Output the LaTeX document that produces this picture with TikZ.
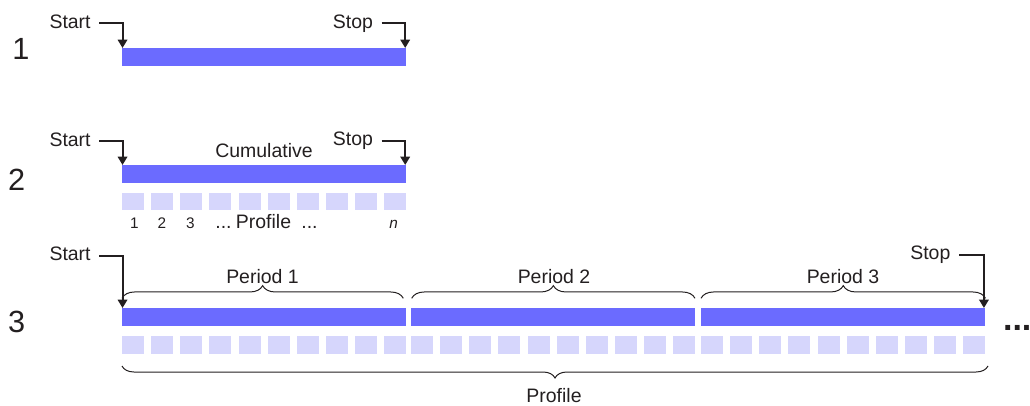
\documentclass[tikz,border=0pt]{standalone}
\usepackage{fontspec}
\setmainfont{Liberation Sans}
\usetikzlibrary{decorations.pathreplacing,arrows.meta}
\definecolor{barblue}{RGB}{107,107,255}
\definecolor{sqblue}{RGB}{214,214,252}
\definecolor{ink}{RGB}{35,31,32}
\begin{document}
\begin{tikzpicture}[x=0.75pt,y=-0.75pt,
  bar/.style={fill=barblue, draw=none, inner sep=0pt, anchor=north west, minimum height=13.2pt},
  sq/.style={fill=sqblue, draw=none, inner sep=0pt, anchor=north west, minimum width=16.5pt, minimum height=13.1pt},
  lbl/.style={font=\fontsize{14.6pt}{16pt}\selectfont, inner xsep=6.3pt, inner ysep=0pt, text height=0.716em, text depth=0pt, text=ink},
  txt/.style={font=\fontsize{14.6pt}{16pt}\selectfont, inner sep=0pt, anchor=base, text=ink},
  small/.style={font=\fontsize{11.5pt}{13pt}\selectfont, inner sep=0pt, anchor=base, text=ink},
  num/.style={font=\fontsize{23pt}{26pt}\selectfont, inner sep=0pt, anchor=base, text=ink},
  arr/.style={draw=ink, line width=1.5pt, -{Triangle[length=6.2pt,width=7pt]}},
  brc/.style={draw=ink, line width=0.75pt, decorate, decoration={brace, amplitude=9.5pt}}
]
\useasboundingbox (0,0) rectangle (1030,406);

% row numbers
\node[num] (n1) at (21,59.5) {1};
\node[num] (n2) at (16.7,190) {2};
\node[num] (n3) at (16.7,332.7) {3};

% Row 1
\node[bar, minimum width=213pt] (b1) at (122,48) {};
\node[lbl, anchor=east] (start1) at (99.3,23.3) {Start};
\node[lbl, anchor=east] (stop1) at (381.7,23.3) {Stop};
\draw[arr] (start1.east) -| ([xshift=0.4pt]b1.north west);
\draw[arr] (stop1.east) -| ([xshift=-1pt]b1.north east);

% Row 2
\node[bar, minimum width=213pt] (b2) at (122,165) {};
\node[lbl, anchor=east] (start2) at (99.3,141.5) {Start};
\node[lbl, anchor=east] (stop2) at (381.7,141) {Stop};
\draw[arr] (start2.east) -| ([xshift=0.4pt]b2.north west);
\draw[arr] (stop2.east) -| ([xshift=-1pt]b2.north east);
\node[txt] (cum) at (264,157.7) {Cumulative};
\foreach \i in {0,...,9} \node[sq] (s2-\i) at ({122+\i*29.07},192.7) {};
\node[small] (l1) at (134.5,228.3) {1};
\node[small] (l2) at (162,228.3) {2};
\node[small] (l3) at (190.5,228.3) {3};
\node[txt] (d1) at (223.5,228.3) {...};
\node[txt] (prof2) at (263.5,228.3) {Profile};
\node[txt] (d2) at (309.5,228.3) {...};
\node[small] (ln) at (393.7,228.3) {\itshape n};

% Row 3
\node[bar, minimum width=213pt] (b31) at (122,308) {};
\node[bar, minimum width=213pt] (b32) at (411,308) {};
\node[bar, minimum width=213pt] (b33) at (701,308) {};
\foreach \g/\x in {1/122,2/411,3/701}
  \foreach \i in {0,...,9}
    \node[sq] (s3-\g-\i) at ({\x+\i*29.07},336) {};
\node[lbl, anchor=east] (start3) at (99.3,255.7) {Start};
\node[lbl, anchor=east] (stop3) at (959,255) {Stop};
\draw[arr] (start3.east) -| ([xshift=0.4pt]b31.north west);
\draw[arr] (stop3.east) -| ([xshift=-1.2pt]b33.north east);

\coordinate (p1a) at (122,298.3);
\coordinate (p1b) at (403.3,298.3);
\coordinate (p2a) at (411.7,298.3);
\coordinate (p2b) at (695,298.3);
\coordinate (p3a) at (701,298.3);
\coordinate (p3b) at (985.5,298.3);
\draw[brc] (p1a) -- (p1b);
\draw[brc] (p2a) -- (p2b);
\draw[brc] (p3a) -- (p3b);
\node[txt] (per1) at (262.5,283.3) {Period 1};
\node[txt] (per2) at (554,283.3) {Period 2};
\node[txt] (per3) at (843,283.3) {Period 3};

\coordinate (pra) at (122,366);
\coordinate (prb) at (988,366);
\draw[brc, decoration={brace, amplitude=9pt}] (prb) -- (pra);
\node[txt] (prof3) at (554,402.5) {Profile};

\node[font=\fontsize{25.5pt}{28pt}\selectfont\bfseries, inner sep=0pt, anchor=base, text=ink] (more) at (1017.2,330) {...};
\end{tikzpicture}
\end{document}
